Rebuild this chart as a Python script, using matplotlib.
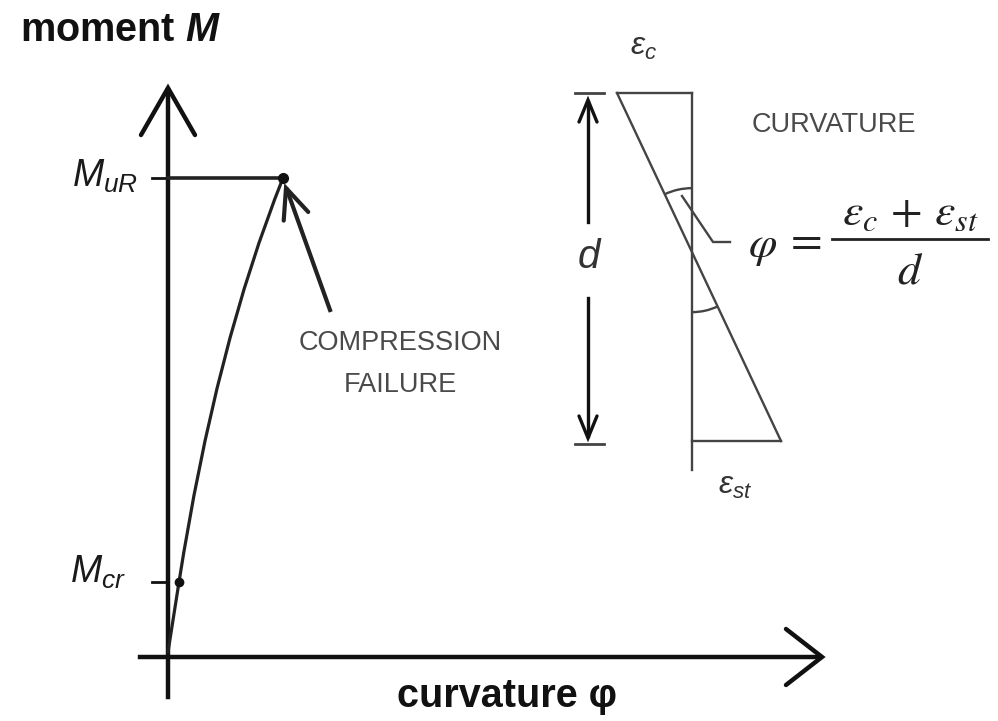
import numpy as np
import matplotlib
matplotlib.use("Agg")
import matplotlib.pyplot as plt
from matplotlib.patches import Arc, PathPatch
from matplotlib.path import Path

plt.rcParams['mathtext.fontset'] = 'custom'
plt.rcParams['mathtext.it'] = 'Liberation Sans:italic'
plt.rcParams['mathtext.rm'] = 'Liberation Sans'
plt.rcParams['mathtext.bf'] = 'Liberation Sans:italic:bold'
plt.rcParams['font.family'] = ['Liberation Sans', 'DejaVu Sans']

# ---- data (diagram coordinates, y grows downward) ----
# moment-curvature curve: straight uncracked part, then curved cracked part
uncracked_x = [168, 179]
uncracked_y = [652, 582]
cracked_ctrl_x = [179, 216, 283]     # quadratic Bezier control points
cracked_ctrl_y = [582, 345, 178]
m_cr = 582          # cracking moment level
m_ur = 178          # ultimate moment level
cr_point = (179, 582)
ur_point = (283, 178)

axis_labels = [r'moment $\mathbf{M}$', 'curvature φ']
annot_text = ["COMPRESSION", "FAILURE"]

# strain diagram
strain_top = 93
strain_bot = 441
strain_x0 = 692
eps_c_w = 75
eps_st_w = 89

W, H = 998, 721
fig = plt.figure(figsize=(W / 100, H / 100), dpi=100)
ax = fig.add_axes([0, 0, 1, 1])
ax.set_xlim(0, W)
ax.set_ylim(H, 0)
ax.axis('off')

K = '#111111'
G = '#444444'


def vhead(tip, direction, length, half, color, lw):
    d = np.array(direction, float)
    d /= np.linalg.norm(d)
    n = np.array([-d[1], d[0]])
    t = np.array(tip, float)
    a = t - d * length + n * half
    b = t - d * length - n * half
    ax.plot([a[0], t[0], b[0]], [a[1], t[1], b[1]], color=color, lw=lw,
            solid_capstyle='round', solid_joinstyle='miter')


# axes
ax.plot([168, 168], [697, 90], color=K, lw=3.2)
vhead((168, 88), (0, -1), 47, 27, K, 3.2)
ax.plot([140, 820], [657, 657], color=K, lw=3.2)
vhead((822, 657), (1, 0), 36, 28, K, 3.2)

# ticks and MuR line
ax.plot([152, 168], [m_ur, m_ur], color=K, lw=2)
ax.plot([168, ur_point[0]], [m_ur, m_ur], color='#222222', lw=2.6)
ax.plot([152, 168], [m_cr, m_cr], color=K, lw=2)

# curve
ax.plot(uncracked_x, uncracked_y, color='#222222', lw=2.3)
verts = list(zip(cracked_ctrl_x, cracked_ctrl_y))
path = Path(verts, [Path.MOVETO, Path.CURVE3, Path.CURVE3])
ax.add_patch(PathPatch(path, facecolor='none', edgecolor='#222222', lw=2.3))
ax.plot(*cr_point, 'o', color=K, ms=6)
ax.plot(*ur_point, 'o', color=K, ms=7)

# compression failure arrow
ax.plot([330, 287], [310, 190], color='#222222', lw=3)
vhead((286, 188), (-43, -122), 30, 13, '#222222', 3)

# texts
ax.text(20, 41, axis_labels[0], fontsize=28.5, fontweight='bold', color=K, va='baseline', ha='left')
ax.text(507, 696, axis_labels[1], fontsize=28.5, fontweight='bold', color=K, va='center', ha='center')
ax.text(138, 176, r'$M_{uR}$', fontsize=27, color='#1a1a1a', va='center', ha='right')
ax.text(126, 572, r'$M_{cr}$', fontsize=27, color='#1a1a1a', va='center', ha='right')
ax.text(400, 343, annot_text[0], fontsize=19.5, color='#4a4a4a', va='center', ha='center')
ax.text(400, 385, annot_text[1], fontsize=19.5, color='#4a4a4a', va='center', ha='center')

# strain diagram
LW = 1.7
ax.plot([strain_x0, strain_x0], [strain_top, 470], color=G, lw=LW)
ax.plot([strain_x0 - eps_c_w, strain_x0], [strain_top, strain_top], color=G, lw=LW)
ax.plot([strain_x0 - eps_c_w, strain_x0 + eps_st_w], [strain_top, strain_bot], color=G, lw=LW)
ax.plot([strain_x0, strain_x0 + eps_st_w], [strain_bot, strain_bot], color=G, lw=LW)

# angle arcs around the neutral-axis crossing
slope = (strain_bot - strain_top) / (eps_c_w + eps_st_w)
yc = strain_top + eps_c_w * slope
ang = np.degrees(np.arctan2(slope, 1))
r1 = 64
ax.add_patch(Arc((strain_x0, yc), 2 * r1, 2 * r1, theta1=180 + ang, theta2=270,
                 color=G, lw=LW))
r2 = 60
ax.add_patch(Arc((strain_x0, yc), 2 * r2, 2 * r2, theta1=ang, theta2=90,
                 color=G, lw=LW))

# leader
ax.plot([682, 713, 730], [196, 242, 242], color=G, lw=LW)

# d dimension
ax.plot([575, 604], [strain_top, strain_top], color=G, lw=2)
ax.plot([575, 604], [444, 444], color=G, lw=2)
ax.plot([588, 588], [222, 102], color=K, lw=2.4)
vhead((588, 100), (0, -1), 22, 9, K, 2.4)
ax.plot([588, 588], [298, 436], color=K, lw=2.4)
vhead((588, 438), (0, 1), 22, 9, K, 2.4)
ax.text(590, 257, r'$d$', fontsize=29, color='#333333', va='center', ha='center')

ax.text(644, 47, r'$\varepsilon_c$', fontsize=23, color='#333333', va='center', ha='center')
ax.text(735, 486, r'$\varepsilon_{st}$', fontsize=23, color='#333333', va='center', ha='center')
ax.text(834, 125, 'CURVATURE', fontsize=19.5, color='#4a4a4a', va='center', ha='center')

# formula  phi = (eps_c + eps_st) / d
FS = 33
ax.text(763, 246, r'$\varphi$', fontsize=FS, color='#222222', va='center', ha='center',
        math_fontfamily='stix')
ax.text(803, 240, r'$=$', fontsize=FS, color='#222222', va='center', ha='center',
        math_fontfamily='stix')
ax.text(910, 213, r'$\varepsilon_c\,+\,\varepsilon_{st}$', fontsize=FS, color='#222222',
        va='center', ha='center', math_fontfamily='stix')
ax.plot([832, 988], [239, 239], color='#222222', lw=2)
ax.text(910, 272, r'$d$', fontsize=FS, color='#222222', va='center', ha='center',
        math_fontfamily='stix')

fig.savefig('out.png', dpi=100)
